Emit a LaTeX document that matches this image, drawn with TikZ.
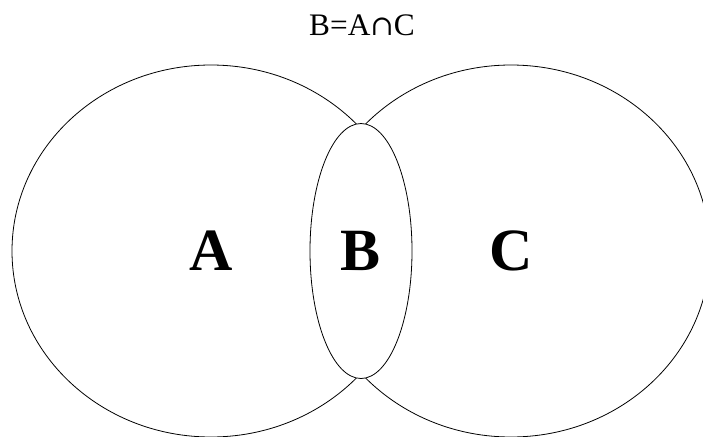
\documentclass[tikz,border=0pt]{standalone}
\usepackage{fontspec}
\setmainfont{Liberation Serif}
\newfontfamily\symfont{DejaVu Serif}
\usetikzlibrary{shapes.geometric,positioning}

\tikzset{
  set/.style={draw, ellipse, inner sep=0pt, line width=0.6pt,
    minimum width=298.5pt, minimum height=279pt,
    font=\bfseries\fontsize{45}{45}\selectfont},
  meet/.style={set, fill=white, minimum width=76.5pt, minimum height=191.25pt}
}

\begin{document}
\begin{tikzpicture}[x=0.75pt, y=-0.75pt, node distance=112.5pt]

\useasboundingbox (0,0) rectangle (703,436);
\clip (0,0) rectangle (703,436);

\node[set]  (A) at (211,251)  {A};
\node[set]  (C) [right of=A, node distance=225pt] {C};
\node[meet] (B) [right of=A]  {B};

\node[font=\fontsize{23.5}{24}\selectfont] (T) at (362,25) {B=A{\symfont\fontsize{21}{24}\selectfont ∩}C};

\end{tikzpicture}
\end{document}
